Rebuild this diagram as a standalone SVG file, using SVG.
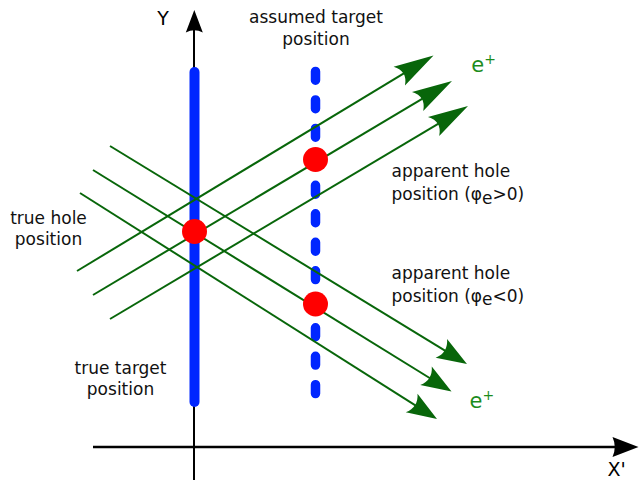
<svg xmlns="http://www.w3.org/2000/svg" width="639" height="486" viewBox="0 0 639 486">
  <style>
    text { font-family: "DejaVu Sans", "Liberation Sans", sans-serif; font-size: 17px; fill: #000; }
    .lbl { fill: #111; }
    .ax { font-size: 19px; }
    .ep { fill: #1c8c1c; font-size: 21px; }
    .sup { font-size: 14px; }
    .beam { stroke: #08660a; stroke-width: 2; fill: none; }
    .up { marker-end: url(#arrUp); }
    .dn { marker-end: url(#arrDn); }
    .hole { fill: #ff0000; }
    .axis { stroke: #000; fill: none; }
  </style>
  <defs>
    <marker id="arrUp" markerUnits="userSpaceOnUse" orient="auto" refX="0" refY="0" markerWidth="1" markerHeight="1" overflow="visible">
      <path d="M25,0 L-15,-11 Q-5,0 -15,11 Z" fill="#08660a"/>
    </marker>
    <marker id="arrDn" markerUnits="userSpaceOnUse" orient="auto" refX="0" refY="0" markerWidth="1" markerHeight="1" overflow="visible">
      <path d="M20,0 L-10,-11 Q-2,0 -10,11 Z" fill="#08660a"/>
    </marker>
  </defs>

  <g id="axes">
    <g id="y-axis">
      <line class="axis" x1="194" y1="480" x2="194" y2="28" stroke-width="2"/>
      <path d="M194.3,10 L185.8,32.5 Q194.3,28 202.8,32.5 Z" fill="#000"/>
      <text class="ax" x="163" y="25" text-anchor="middle">Y</text>
    </g>
    <g id="x-axis">
      <line class="axis" x1="93" y1="447" x2="620" y2="447" stroke-width="2.6"/>
      <path d="M638.5,447 L612.5,437 Q617,447 612.5,457 Z" fill="#000"/>
      <text class="ax" x="607.5" y="475.5">X'</text>
    </g>
  </g>

  <g id="true-target">
    <line x1="194.5" y1="72" x2="194.5" y2="402" stroke="#0026ff" stroke-width="10" stroke-linecap="round"/>
  </g>
  <g id="assumed-target">
    <line x1="315.5" y1="71.45" x2="315.5" y2="393.55" stroke="#0026ff" stroke-width="9.5" stroke-linecap="round" stroke-dasharray="8.8 19.68"/>
  </g>

  <g id="connectors">
    <line class="beam up" x1="77" y1="271" x2="412.1" y2="68.4"/>
    <line class="beam up" x1="93" y1="295" x2="430.5" y2="93.8"/>
    <line class="beam up" x1="110" y1="319" x2="446.5" y2="118.8"/>
    <line class="beam dn" x1="110" y1="146" x2="449.9" y2="353.6"/>
    <line class="beam dn" x1="93" y1="170" x2="434.5" y2="381"/>
    <line class="beam dn" x1="80" y1="193" x2="420.1" y2="408.3"/>
  </g>

  <g id="true-hole">
    <circle class="hole" cx="194.5" cy="231.5" r="12.5"/>
  </g>
  <g id="apparent-hole-pos">
    <circle class="hole" cx="315.5" cy="159.5" r="12.5"/>
  </g>
  <g id="apparent-hole-neg">
    <circle class="hole" cx="315.5" cy="304" r="12.5"/>
  </g>

  <g id="labels">
    <text class="lbl" x="316" y="23" text-anchor="middle">assumed target</text>
    <text class="lbl" x="316" y="45" text-anchor="middle">position</text>
    <text class="lbl" x="48.5" y="224" text-anchor="middle">true hole</text>
    <text class="lbl" x="48.5" y="245" text-anchor="middle">position</text>
    <text class="lbl" x="120.5" y="374" text-anchor="middle">true target</text>
    <text class="lbl" x="120.5" y="395" text-anchor="middle">position</text>
    <text class="lbl" x="391.5" y="177">apparent hole</text>
    <text class="lbl" x="391.5" y="200">position (φ<tspan dy="3.5">e</tspan><tspan dy="-3.5">&gt;0)</tspan></text>
    <text class="lbl" x="391.5" y="278.5">apparent hole</text>
    <text class="lbl" x="391.5" y="301.5">position (φ<tspan dy="3.5">e</tspan><tspan dy="-3.5">&lt;0)</tspan></text>
    <text class="ep" x="471.3" y="71.7">e<tspan class="sup" dy="-8">+</tspan></text>
    <text class="ep" x="469.5" y="407.7">e<tspan class="sup" dy="-8">+</tspan></text>
  </g>
</svg>
